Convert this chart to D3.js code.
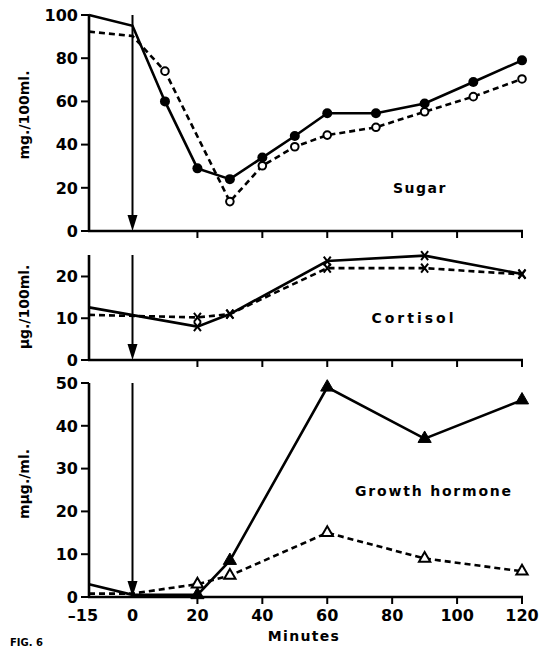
<!DOCTYPE html>
<html><head><meta charset="utf-8">
<script src="https://cdn.jsdelivr.net/npm/d3@7"></script>
<style>body{margin:0;background:#fff}svg{display:block}</style>
</head><body>
<script>
// ---- data ----
const xTicks = [-15, 0, 20, 40, 60, 80, 100, 120];
const sugarTicks = [0, 20, 40, 60, 80, 100];
const cortTicks = [0, 10, 20];
const ghTicks = [0, 10, 20, 30, 40, 50];

const sugarSolidT = [-15, 0, 10, 20, 30, 40, 50, 60, 75, 90, 105, 120];
const sugarSolid  = [100, 95, 60, 29, 24, 34, 44, 54.5, 54.5, 59, 69, 79];
const sugarDashT  = [-15, 0, 10, 30, 40, 50, 60, 75, 90, 105, 120];
const sugarDash   = [92.3, 90.3, 74, 13.6, 30.2, 39, 44.4, 48, 55.2, 62.2, 70.4];

const cortT     = [-15, 20, 30, 60, 90, 120];
const cortSolid = [12.6, 8, 11, 23.7, 25, 20.6];
const cortDash  = [10.8, 10.2, 11, 22, 22, 20.5];

const ghT     = [-15, 0, 20, 30, 60, 90, 120];
const ghSolid = [3, 0.5, 0.5, 8.5, 49, 37, 46];
const ghDash  = [0.8, 0.8, 3, 5, 15, 9, 6];

const W = 547, H = 648;
const svg = d3.select("body").append("svg").attr("width", W).attr("height", H);
const font = "'DejaVu Sans', Verdana, sans-serif";

const x = d3.scaleLinear().domain([-15, 0, 120]).range([89, 132.5, 522]);

const panels = [
  {y: d3.scaleLinear().domain([0, 100]).range([231, 15]), ticks: sugarTicks, top: 15, label: "mg./100ml.", ly: 115,
   name: "Sugar", nx: 420, ny: 193, ls: 1.5},
  {y: d3.scaleLinear().domain([0, 25]).range([360, 255.6]), ticks: cortTicks, top: 255, label: "µg./100ml.", ly: 307,
   name: "Cortisol", nx: 414, ny: 323, ls: 3},
  {y: d3.scaleLinear().domain([0, 50]).range([597, 383]), ticks: ghTicks, top: 383, label: "mµg./ml.", ly: 484,
   name: "Growth hormone", nx: 434, ny: 496, ls: 1.8}
];

const STROKE = 2.6;

panels.forEach((p, i) => {
  const g = svg.append("g");
  const base = p.y(0);
  // y axis
  g.append("line").attr("x1", x(-15)).attr("x2", x(-15)).attr("y1", p.top).attr("y2", base)
    .attr("stroke", "#000").attr("stroke-width", STROKE);
  // x axis
  g.append("line").attr("x1", x(-15) - 1).attr("x2", x(120) + 1).attr("y1", base).attr("y2", base)
    .attr("stroke", "#000").attr("stroke-width", STROKE);
  // y ticks
  p.ticks.forEach(t => {
    g.append("line").attr("x1", x(-15) - 8).attr("x2", x(-15)).attr("y1", p.y(t)).attr("y2", p.y(t))
      .attr("stroke", "#000").attr("stroke-width", 2);
    g.append("text").attr("x", x(-15) - 11).attr("y", p.y(t)).attr("dy", "0.36em")
      .attr("text-anchor", "end").attr("font-family", font).attr("font-weight", "bold")
      .attr("font-size", 16).text(t);
  });
  // x ticks
  xTicks.filter(t => t > 0).forEach(t => {
    g.append("line").attr("x1", x(t)).attr("x2", x(t)).attr("y1", base).attr("y2", base + 7)
      .attr("stroke", "#000").attr("stroke-width", 2);
  });
  // axis title
  g.append("text").attr("transform", `translate(29,${p.ly}) rotate(-90)`)
    .attr("text-anchor", "middle").attr("font-family", font).attr("font-weight", "bold")
    .attr("font-size", 14).text(p.label);
  // panel name
  g.append("text").attr("x", p.nx).attr("y", p.ny).attr("text-anchor", "middle")
    .attr("font-family", font).attr("font-weight", "bold").attr("font-size", 14)
    .attr("letter-spacing", p.ls).text(p.name);
  // arrow at time 0
  g.append("line").attr("x1", x(0)).attr("x2", x(0)).attr("y1", p.top).attr("y2", base - 10)
    .attr("stroke", "#000").attr("stroke-width", 2);
  g.append("path").attr("d", `M${x(0) - 5},${base - 16} L${x(0) + 5},${base - 16} L${x(0)},${base} Z`)
    .attr("fill", "#000");
});

// bottom x tick labels
const bottom = panels[2].y(0);
xTicks.forEach(t => {
  svg.append("text").attr("x", x(t) + (t < 0 ? -6 : 0)).attr("y", bottom + 24)
    .attr("text-anchor", "middle").attr("font-family", font).attr("font-weight", "bold")
    .attr("font-size", 16).text(t < 0 ? "–" + Math.abs(t) : t);
});
svg.append("text").attr("x", 304).attr("y", 641).attr("text-anchor", "middle")
  .attr("font-family", font).attr("font-weight", "bold").attr("font-size", 14)
  .attr("letter-spacing", 1.3).text("Minutes");
svg.append("text").attr("x", 10).attr("y", 646).attr("font-family", font)
  .attr("font-weight", "bold").attr("font-size", 10).text("FIG. 6");

function drawLine(p, ts, vs, dashed) {
  const line = d3.line().x(d => x(d[0])).y(d => p.y(d[1]));
  svg.append("path").datum(d3.zip(ts, vs)).attr("d", line)
    .attr("fill", "none").attr("stroke", "#000").attr("stroke-width", STROKE)
    .attr("stroke-dasharray", dashed ? "6,4" : null);
}
function markers(p, ts, vs, kind) {
  d3.zip(ts, vs).filter(d => d[0] > 0).forEach(d => {
    const cx = x(d[0]), cy = p.y(d[1]);
    if (kind === "dot") {
      svg.append("circle").attr("cx", cx).attr("cy", cy).attr("r", 5).attr("fill", "#000");
    } else if (kind === "ring") {
      svg.append("circle").attr("cx", cx).attr("cy", cy).attr("r", 3.8)
        .attr("fill", "#fff").attr("stroke", "#000").attr("stroke-width", 2);
    } else if (kind === "x") {
      svg.append("path").attr("d", `M${cx - 3.5},${cy - 4.5}L${cx + 3.5},${cy + 4.5}M${cx + 3.5},${cy - 4.5}L${cx - 3.5},${cy + 4.5}`)
        .attr("stroke", "#000").attr("stroke-width", 2).attr("fill", "none");
    } else if (kind === "tri" || kind === "otri") {
      svg.append("path").attr("d", d3.symbol().type(d3.symbolTriangle).size(kind === "tri" ? 75 : 55)())
        .attr("transform", `translate(${cx},${cy})`)
        .attr("fill", kind === "tri" ? "#000" : "#fff").attr("stroke", "#000")
        .attr("stroke-width", kind === "tri" ? 1 : 2);
    }
  });
}

const [pS, pC, pG] = panels;
drawLine(pS, sugarSolidT, sugarSolid, false);
drawLine(pS, sugarDashT, sugarDash, true);
markers(pS, sugarSolidT, sugarSolid, "dot");
markers(pS, sugarDashT, sugarDash, "ring");

drawLine(pC, cortT, cortSolid, false);
drawLine(pC, cortT, cortDash, true);
markers(pC, cortT, cortSolid, "x");
markers(pC, cortT, cortDash, "x");

drawLine(pG, ghT, ghSolid, false);
drawLine(pG, ghT, ghDash, true);
markers(pG, ghT, ghDash, "otri");
markers(pG, ghT, ghSolid, "tri");
</script>
</body></html>
